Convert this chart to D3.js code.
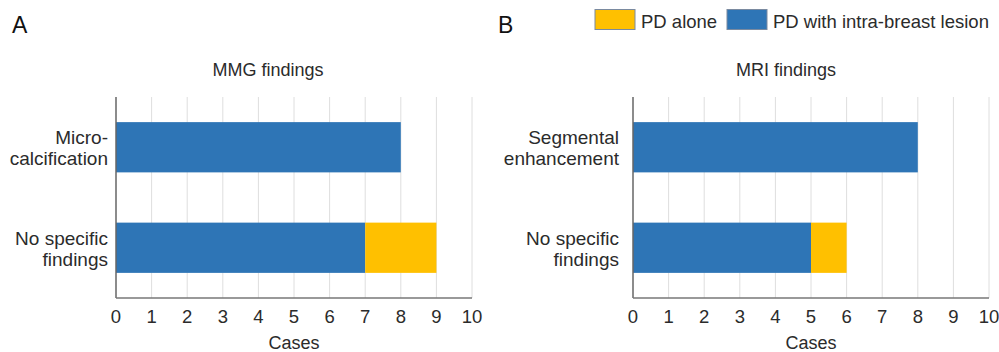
<!DOCTYPE html>
<html>
<head>
<meta charset="utf-8">
<script src="https://cdn.jsdelivr.net/npm/d3@7"></script>
<style>
  body { margin: 0; background: #fff; }
  text { font-family: "Liberation Sans", Arial, sans-serif; fill: #2b2b2b; }
</style>
</head>
<body>
<div id="wrapper"></div>
<script>
// data
const seriesNames = ["PD with intra-breast lesion", "PD alone"];
const seriesColors = ["#2E75B6", "#FFC000"];
const mmgCategories = [["Micro-", "calcification"], ["No specific", "findings"]];
const mmgWithLesion = [8, 7];
const mmgAlone = [0, 2];
const mriCategories = [["Segmental", "enhancement"], ["No specific", "findings"]];
const mriWithLesion = [8, 5];
const mriAlone = [0, 1];
const xTicks = [0, 1, 2, 3, 4, 5, 6, 7, 8, 9, 10];

const dimension = { width: 999, height: 352 };

const svg = d3.select("#wrapper").append("svg")
    .attr("width", dimension.width)
    .attr("height", dimension.height);

function drawPanel(opts) {
    const { left, right, top, bottom, cats, withLesion, alone, title, titleX, letter, letterX, labelX } = opts;

    const xScaler = d3.scaleLinear().domain([0, 10]).range([left, right]);
    const yScaler = d3.scaleBand().domain(cats.map((d, i) => i)).range([top, bottom]).paddingInner(0.5).paddingOuter(0.25);

    const g = svg.append("g");

    // gridlines
    g.selectAll(".grid").data(xTicks.slice(1)).join("line")
        .attr("x1", d => xScaler(d)).attr("x2", d => xScaler(d))
        .attr("y1", top).attr("y2", bottom)
        .attr("stroke", "#dedede").attr("stroke-width", 1);

    // stacked bars
    const rows = cats.map((c, i) => ({ i, a: withLesion[i], b: alone[i] }));
    g.selectAll(".barA").data(rows).join("rect")
        .attr("x", xScaler(0))
        .attr("y", d => yScaler(d.i))
        .attr("width", d => xScaler(d.a) - xScaler(0))
        .attr("height", yScaler.bandwidth())
        .attr("fill", seriesColors[0]);
    g.selectAll(".barB").data(rows.filter(d => d.b > 0)).join("rect")
        .attr("x", d => xScaler(d.a))
        .attr("y", d => yScaler(d.i))
        .attr("width", d => xScaler(d.a + d.b) - xScaler(d.a))
        .attr("height", yScaler.bandwidth())
        .attr("fill", seriesColors[1]);

    // axes lines
    g.append("line").attr("x1", left).attr("x2", left).attr("y1", top).attr("y2", bottom)
        .attr("stroke", "#666").attr("stroke-width", 1.5);
    g.append("line").attr("x1", left).attr("x2", right).attr("y1", bottom).attr("y2", bottom)
        .attr("stroke", "#777").attr("stroke-width", 1.5);

    // tick labels
    g.selectAll(".tick").data(xTicks).join("text")
        .attr("x", d => xScaler(d)).attr("y", bottom + 24.5)
        .attr("text-anchor", "middle").style("font-size", "18.5px")
        .text(d => d);

    // category labels
    cats.forEach((lines, i) => {
        const cy = yScaler(i) + yScaler.bandwidth() / 2;
        const t = g.append("text").attr("text-anchor", "end").style("font-size", "19px");
        lines.forEach((ln, j) => {
            t.append("tspan").attr("x", labelX).attr("y", cy - 3 + j * 21).text(ln);
        });
    });

    // titles
    g.append("text").attr("x", titleX).attr("y", 75.5).attr("text-anchor", "middle")
        .style("font-size", "18px").text(title);
    g.append("text").attr("x", (left + right) / 2).attr("y", 349).attr("text-anchor", "middle")
        .style("font-size", "18px").text("Cases");
    g.append("text").attr("x", letterX).attr("y", 33)
        .style("font-size", "23px").style("fill", "#111").text(letter);
}

drawPanel({ left: 116, right: 472, top: 97, bottom: 298, cats: mmgCategories,
    withLesion: mmgWithLesion, alone: mmgAlone, title: "MMG findings", titleX: 268,
    letter: "A", letterX: 12, labelX: 108 });
drawPanel({ left: 633, right: 989, top: 97, bottom: 298, cats: mriCategories,
    withLesion: mriWithLesion, alone: mriAlone, title: "MRI findings", titleX: 786,
    letter: "B", letterX: 498, labelX: 619 });

// legend
const legendItems = [
    { name: seriesNames[1], color: seriesColors[1], x: 595 },
    { name: seriesNames[0], color: seriesColors[0], x: 727 }
];
const legend = svg.append("g");
legend.selectAll("rect").data(legendItems).join("rect")
    .attr("x", d => d.x).attr("y", 9.5).attr("width", 40).attr("height", 20)
    .attr("fill", d => d.color).attr("stroke", "#7a8aa0").attr("stroke-width", 1);
legend.selectAll("text").data(legendItems).join("text")
    .attr("x", d => d.x + 46).attr("y", 27.5)
    .style("font-size", "18.5px").text(d => d.name);
</script>
</body>
</html>
